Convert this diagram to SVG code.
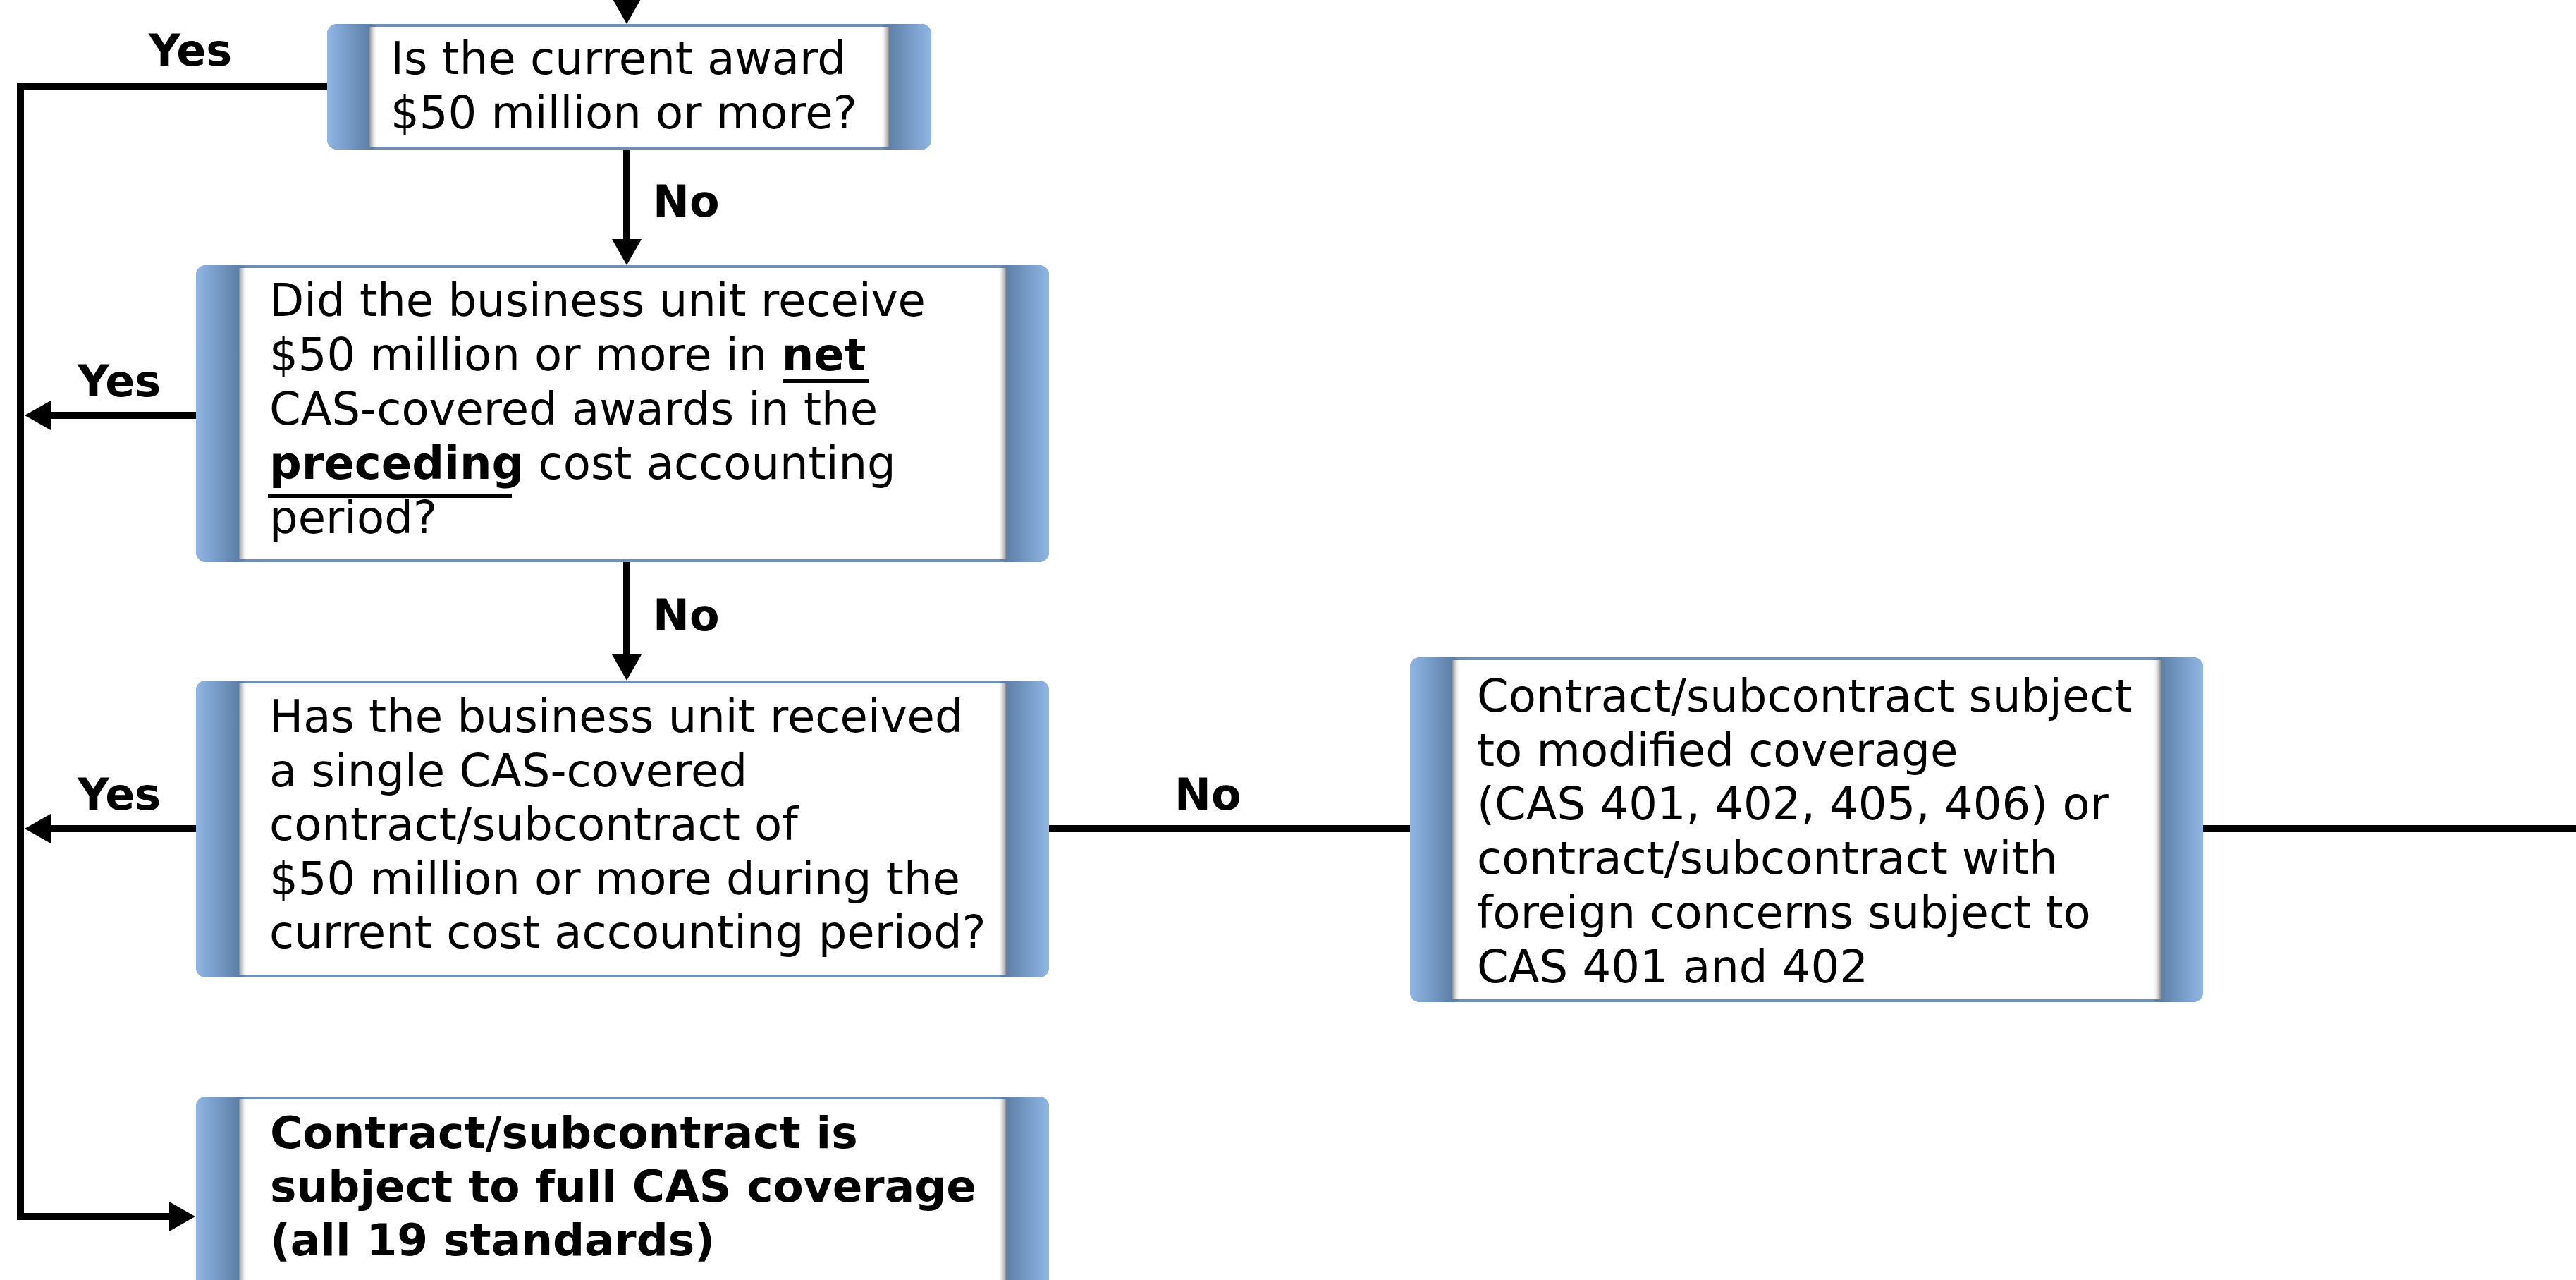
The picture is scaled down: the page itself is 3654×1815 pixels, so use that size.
<svg xmlns="http://www.w3.org/2000/svg" width="3654" height="1815" viewBox="0 0 3654 1815">
<style>
.t{font-family:"DejaVu Sans",Verdana,sans-serif;font-size:64px;fill:#000}
.b{font-weight:bold}
.bb{font-size:63px}
.lbl{font-family:"DejaVu Sans",Verdana,sans-serif;font-size:62px;font-weight:bold;fill:#000}
.frame{fill:#6F8FB8}
.sl{fill:url(#gL)}
.sr{fill:url(#gR)}
.panel{fill:#fff}
.shl{fill:url(#shL)}
.shr{fill:url(#shR)}
.c{fill:none;stroke:#000;stroke-width:10}
.a{marker-end:url(#ah)}
.ul{stroke:#000;stroke-width:6}
</style>
<defs>
<linearGradient id="gL" x1="0" y1="0" x2="1" y2="0">
<stop offset="0" stop-color="#90B6E5"/>
<stop offset="0.81" stop-color="#5D7FA7"/>
<stop offset="1" stop-color="#5D7FA7"/>
</linearGradient>
<linearGradient id="gR" x1="1" y1="0" x2="0" y2="0">
<stop offset="0" stop-color="#90B6E5"/>
<stop offset="0.81" stop-color="#5D7FA7"/>
<stop offset="1" stop-color="#5D7FA7"/>
</linearGradient>
<linearGradient id="shL" x1="0" y1="0" x2="1" y2="0">
<stop offset="0" stop-color="#8C8C8C"/>
<stop offset="1" stop-color="#FFFFFF" stop-opacity="0"/>
</linearGradient>
<linearGradient id="shR" x1="1" y1="0" x2="0" y2="0">
<stop offset="0" stop-color="#8C8C8C"/>
<stop offset="1" stop-color="#FFFFFF" stop-opacity="0"/>
</linearGradient>
<marker id="ah" markerUnits="userSpaceOnUse" markerWidth="37" markerHeight="42" refX="7" refY="21" orient="auto" overflow="visible">
<path d="M0,0 L37,21 L0,42 Z" fill="#000"/>
</marker>
</defs>

<g id="connectors">
<line class="c a" x1="889" y1="-20" x2="889" y2="4"/>
<line class="c a" x1="889" y1="212" x2="889" y2="346"/>
<line class="c a" x1="889" y1="797" x2="889" y2="935"/>
<polyline class="c a" points="464,122 29,122 29,1725 247,1725"/>
<line class="c a" x1="278" y1="589" x2="65" y2="589"/>
<line class="c a" x1="278" y1="1175" x2="65" y2="1175"/>
<line class="c" x1="1488" y1="1175" x2="2000" y2="1175"/>
<line class="c" x1="3125" y1="1175" x2="3660" y2="1175"/>
<text class="lbl" x="211" y="93">Yes</text>
<text class="lbl" x="926" y="307">No</text>
<text class="lbl" x="110" y="562">Yes</text>
<text class="lbl" x="926" y="894">No</text>
<text class="lbl" x="110" y="1148">Yes</text>
<text class="lbl" x="1666" y="1148">No</text>
</g>

<g id="n1">
<rect class="frame" x="464" y="34" width="857" height="178" rx="14"/>
<rect class="sl" x="464" y="34" width="75" height="178" rx="14"/>
<rect class="sr" x="1246" y="34" width="75" height="178" rx="14"/>
<rect class="panel" x="524" y="38" width="737" height="170"/>
<rect class="shl" x="524" y="38" width="12" height="170"/>
<rect class="shr" x="1249" y="38" width="12" height="170"/>
<text class="t" x="554" y="105">Is the current award</text>
<text class="t" x="554" y="182">$50 million or more?</text>
</g>

<g id="n2">
<rect class="frame" x="278" y="376" width="1210" height="421" rx="14"/>
<rect class="sl" x="278" y="376" width="75" height="421" rx="14"/>
<rect class="sr" x="1413" y="376" width="75" height="421" rx="14"/>
<rect class="panel" x="339" y="380" width="1088" height="413"/>
<rect class="shl" x="339" y="380" width="12" height="413"/>
<rect class="shr" x="1415" y="380" width="12" height="413"/>
<text class="t" x="382" y="448">Did the business unit receive</text>
<text class="t" x="382" y="525">$50 million or more in <tspan class="b">net</tspan></text>
<line class="ul" x1="1110" y1="540" x2="1232" y2="540"/>
<text class="t" x="382" y="602">CAS-covered awards in the</text>
<text class="t" x="382" y="679"><tspan class="b">preceding</tspan> cost accounting</text>
<line class="ul" x1="380" y1="703" x2="726" y2="703"/>
<text class="t" x="382" y="756">period?</text>
</g>

<g id="n3">
<rect class="frame" x="278" y="965" width="1210" height="421" rx="14"/>
<rect class="sl" x="278" y="965" width="75" height="421" rx="14"/>
<rect class="sr" x="1413" y="965" width="75" height="421" rx="14"/>
<rect class="panel" x="339" y="969" width="1088" height="413"/>
<rect class="shl" x="339" y="969" width="12" height="413"/>
<rect class="shr" x="1415" y="969" width="12" height="413"/>
<text class="t" x="382" y="1038">Has the business unit received</text>
<text class="t" x="382" y="1115">a single CAS-covered</text>
<text class="t" x="382" y="1191">contract/subcontract of</text>
<text class="t" x="382" y="1268">$50 million or more during the</text>
<text class="t" x="382" y="1344">current cost accounting period?</text>
</g>

<g id="n4">
<rect class="frame" x="2000" y="932" width="1125" height="489" rx="14"/>
<rect class="sl" x="2000" y="932" width="75" height="489" rx="14"/>
<rect class="sr" x="3050" y="932" width="75" height="489" rx="14"/>
<rect class="panel" x="2060" y="936" width="1005" height="481"/>
<rect class="shl" x="2060" y="936" width="12" height="481"/>
<rect class="shr" x="3053" y="936" width="12" height="481"/>
<text class="t" x="2095" y="1009">Contract/subcontract subject</text>
<text class="t" x="2095" y="1086">to modified coverage</text>
<text class="t" x="2095" y="1162">(CAS 401, 402, 405, 406) or</text>
<text class="t" x="2095" y="1239">contract/subcontract with</text>
<text class="t" x="2095" y="1316">foreign concerns subject to</text>
<text class="t" x="2095" y="1393">CAS 401 and 402</text>
</g>

<g id="n5">
<rect class="frame" x="278" y="1555" width="1210" height="400" rx="14"/>
<rect class="sl" x="278" y="1555" width="75" height="400" rx="14"/>
<rect class="sr" x="1413" y="1555" width="75" height="400" rx="14"/>
<rect class="panel" x="339" y="1559" width="1088" height="392"/>
<rect class="shl" x="339" y="1559" width="12" height="392"/>
<rect class="shr" x="1415" y="1559" width="12" height="392"/>
<text class="t b bb" x="383" y="1628">Contract/subcontract is</text>
<text class="t b bb" x="383" y="1704">subject to full CAS coverage</text>
<text class="t b bb" x="383" y="1780">(all 19 standards)</text>
</g>
</svg>
